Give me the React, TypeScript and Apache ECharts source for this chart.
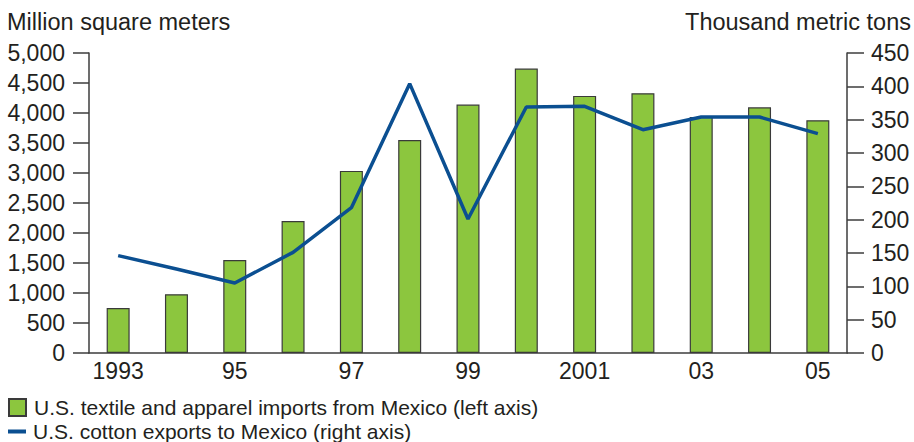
import React, { useEffect, useRef } from "react";
import * as echarts from "echarts";

const years = ["1993", "1994", "1995", "1996", "1997", "1998", "1999", "2000", "2001", "2002", "2003", "2004", "2005"];
const yearLabels = ["1993", "94", "95", "96", "97", "98", "99", "2000", "2001", "02", "03", "04", "05"];
// U.S. textile and apparel imports from Mexico, million square meters
const imports = [750, 980, 1550, 2200, 3035, 3550, 4140, 4740, 4285, 4330, 3935, 4095, 3880];
// U.S. cotton exports to Mexico, thousand metric tons
const cottonExports = [146, 126, 105, 151, 218, 404, 201, 369, 370, 335, 354, 354, 329];

const leftTicks = { min: 0, max: 5000, interval: 500 };
const rightTicks = { min: 0, max: 450, interval: 50 };

const barName = "U.S. textile and apparel imports from Mexico (left axis)";
const lineName = "U.S. cotton exports to Mexico (right axis)";

const FONT = "Liberation Sans, Arial, Helvetica, sans-serif";
const TEXT = "#231f20";
const AXIS = "#3c3c3c";

export default function App() {
  const ref = useRef<HTMLDivElement>(null);

  useEffect(() => {
    if (!ref.current) return;
    const chart = echarts.init(ref.current, null, { renderer: "svg" });
    const fmt = (v: number) => v.toLocaleString("en-US");
    chart.setOption({
      animation: false,
      textStyle: { fontFamily: FONT, color: TEXT },
      grid: { left: 89, right: 67, top: 53, bottom: 89, containLabel: false },
      graphic: [
        {
          type: "text",
          left: 7,
          top: 10,
          style: { text: "Million square meters", font: `23.5px ${FONT}`, fill: TEXT },
        },
        {
          type: "text",
          right: 3,
          top: 10,
          style: { text: "Thousand metric tons", font: `23.5px ${FONT}`, fill: TEXT },
        },
      ],
      legend: [
        {
          data: [{ name: barName, icon: "rect" }],
          orient: "vertical",
          left: 8,
          top: 397,
          itemWidth: 17,
          itemHeight: 17,
          padding: 0,
          textStyle: { fontFamily: FONT, fontSize: 21, color: TEXT, padding: [0, 0, 0, 3] },
        },
        {
          data: [{ name: lineName, icon: "rect" }],
          orient: "vertical",
          left: 8,
          top: 421,
          itemWidth: 18,
          itemHeight: 4,
          padding: 0,
          textStyle: { fontFamily: FONT, fontSize: 21, color: TEXT, padding: [0, 0, 0, 2] },
        },
      ],
      xAxis: {
        type: "category",
        data: years,
        boundaryGap: true,
        axisLine: { lineStyle: { color: AXIS, width: 1.5 } },
        axisTick: { show: false },
        axisLabel: {
          interval: 1,
          margin: 6,
          fontFamily: FONT,
          fontSize: 23,
          color: TEXT,
          formatter: (_v: string, i: number) => yearLabels[i],
        },
      },
      yAxis: [
        {
          type: "value",
          position: "left",
          ...leftTicks,
          axisLine: { show: true, lineStyle: { color: AXIS, width: 1.5 } },
          axisTick: { show: true, inside: false, length: 16, lineStyle: { color: AXIS, width: 1.5 } },
          splitLine: { show: false },
          axisLabel: { margin: 24, fontFamily: FONT, fontSize: 23, color: TEXT, formatter: fmt },
        },
        {
          type: "value",
          position: "right",
          ...rightTicks,
          axisLine: { show: true, lineStyle: { color: AXIS, width: 1.5 } },
          axisTick: { show: true, inside: false, length: 17, lineStyle: { color: AXIS, width: 1.5 } },
          splitLine: { show: false },
          axisLabel: { margin: 24, fontFamily: FONT, fontSize: 23, color: TEXT },
        },
      ],
      series: [
        {
          name: barName,
          type: "bar",
          yAxisIndex: 0,
          data: imports,
          barWidth: 23,
          itemStyle: { color: "#8cc63e", borderColor: "#3a3a3a", borderWidth: 1.2 },
        },
        {
          name: lineName,
          type: "line",
          yAxisIndex: 1,
          data: cottonExports,
          showSymbol: false,
          symbol: "none",
          lineStyle: { color: "#0b4f91", width: 3.5 },
          itemStyle: { color: "#0b4f91" },
        },
      ],
    });
    return () => chart.dispose();
  }, []);

  return (
    <div
      ref={ref}
      style={{ position: "fixed", left: 0, top: 0, width: 914, height: 442, background: "#fff" }}
    />
  );
}
